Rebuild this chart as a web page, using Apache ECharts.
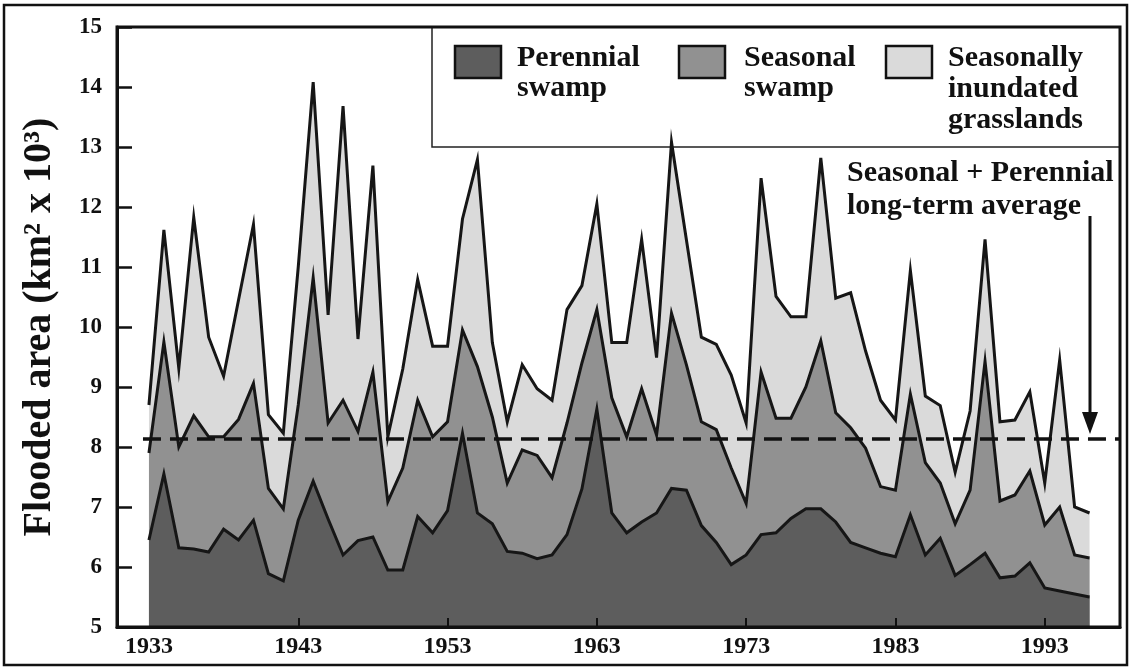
<!DOCTYPE html>
<html>
<head>
<meta charset="utf-8">
<script src="https://cdn.jsdelivr.net/npm/echarts@6/dist/echarts.min.js"></script>
<style>
html,body{margin:0;padding:0;background:#fff;}
#chart{width:1131px;height:669px;}
</style>
</head>
<body>
<div id="chart"></div>
<script>
// ---- data (cumulative levels, km2 x 10^3) ----
const years = [1933,1934,1935,1936,1937,1938,1939,1940,1941,1942,1943,1944,1945,1946,1947,1948,1949,1950,1951,1952,1953,1954,1955,1956,1957,1958,1959,1960,1961,1962,1963,1964,1965,1966,1967,1968,1969,1970,1971,1972,1973,1974,1975,1976,1977,1978,1979,1980,1981,1982,1983,1984,1985,1986,1987,1988,1989,1990,1991,1992,1993,1994,1995,1996];
// top of seasonally inundated grasslands (total flooded area)
const totalArea = [8.70,11.62,9.31,11.83,9.83,9.18,10.45,11.71,8.54,8.23,11.00,14.08,10.20,13.68,9.80,12.69,8.17,9.30,10.79,9.68,9.68,11.80,12.79,9.74,8.42,9.37,8.97,8.78,10.29,10.69,12.05,9.74,9.74,11.46,9.49,13.08,11.45,9.83,9.71,9.20,8.40,12.48,10.51,10.17,10.17,12.82,10.48,10.57,9.60,8.78,8.45,10.94,8.85,8.69,7.58,8.60,11.46,8.42,8.45,8.92,7.40,9.45,7.00,6.90];
// top of seasonal swamp (seasonal + perennial)
const seasonalTop = [7.90,9.75,8.00,8.52,8.17,8.17,8.46,9.06,7.31,6.97,8.70,10.82,8.40,8.78,8.26,9.25,7.09,7.65,8.78,8.17,8.42,9.95,9.34,8.50,7.40,7.95,7.86,7.49,8.40,9.40,10.29,8.82,8.17,8.97,8.20,10.23,9.37,8.42,8.29,7.65,7.06,9.25,8.48,8.48,9.00,9.77,8.57,8.32,7.98,7.34,7.28,8.88,7.74,7.40,6.72,7.28,9.43,7.10,7.20,7.60,6.70,7.00,6.20,6.15];
// top of perennial swamp
const perennialTop = [6.45,7.55,6.32,6.30,6.25,6.63,6.45,6.78,5.89,5.77,6.78,7.43,6.80,6.20,6.44,6.50,5.95,5.95,6.84,6.57,6.94,8.23,6.90,6.72,6.26,6.23,6.14,6.20,6.54,7.30,8.63,6.90,6.57,6.75,6.90,7.31,7.28,6.69,6.41,6.04,6.20,6.54,6.57,6.81,6.97,6.97,6.75,6.41,6.32,6.23,6.17,6.87,6.20,6.48,5.86,6.04,6.23,5.82,5.85,6.07,5.65,5.60,5.55,5.50];
const longTermAverage = 8.14;
const xTickYears = [1933,1943,1953,1963,1973,1983,1993];
const seriesNames = ['Perennial\nswamp','Seasonal\nswamp','Seasonally\ninundated\ngrasslands'];
const annotationText = 'Seasonal + Perennial\nlong-term average';
const yAxisTitle = 'Flooded area (km\u00b2 x 10\u00b3)';

// ---- chart ----
const FONT = '"Liberation Serif","Times New Roman",serif';
const colors = {per:'#5d5d5d', sea:'#919191', gra:'#dadada'};
const pair = arr => arr.map((v,i)=>[years[i], v]);

const chart = echarts.init(document.getElementById('chart'), null, {renderer:'canvas'});
const lineBase = {type:'line', symbol:'none', smooth:false, silent:true,
  lineStyle:{color:'#161616', width:3, join:'miter'}};

chart.setOption({
  animation:false,
  backgroundColor:'#fff',
  grid:{left:117, right:11, top:27, bottom:42, show:true, borderColor:'#111', borderWidth:3, backgroundColor:'transparent', z:5},
  xAxis:{type:'value', min:1930.86, max:1998.04, z:6,
    axisLine:{show:true, onZero:false, lineStyle:{color:'#111', width:3}},
    axisTick:{show:true, inside:true, length:9, lineStyle:{color:'#111', width:2}, customValues:xTickYears.slice(1)},
    axisLabel:{customValues:xTickYears, formatter:v=>String(Math.round(v)), color:'#111', fontFamily:FONT, fontWeight:'bold', fontSize:24, margin:8},
    splitLine:{show:false}},
  yAxis:{type:'value', min:5, max:15, interval:1, z:6,
    name:yAxisTitle, nameLocation:'middle', nameRotate:90, nameGap:57,
    nameTextStyle:{color:'#111', fontFamily:FONT, fontWeight:'bold', fontSize:40},
    axisLine:{show:true, lineStyle:{color:'#111', width:3}},
    axisTick:{show:true, inside:true, length:15, lineStyle:{color:'#111', width:2.5}},
    axisLabel:{color:'#111', fontFamily:FONT, fontWeight:'bold', fontSize:23, margin:15},
    splitLine:{show:false}},
  series:[
    Object.assign({}, lineBase, {name:seriesNames[2], z:2, data:pair(totalArea),
      areaStyle:{color:colors.gra, opacity:1, origin:'start'}}),
    Object.assign({}, lineBase, {name:seriesNames[1], z:3, data:pair(seasonalTop),
      areaStyle:{color:colors.sea, opacity:1, origin:'start'}}),
    Object.assign({}, lineBase, {name:seriesNames[0], z:4, data:pair(perennialTop),
      areaStyle:{color:colors.per, opacity:1, origin:'start'},
      markLine:{silent:true, symbol:['none','none'], label:{show:false},
        lineStyle:{color:'#111', width:3.5, type:[18,9]},
        data:[[{coord:[1932.6, longTermAverage]},{coord:[1998.04, longTermAverage]}]]}})
  ],
  graphic:[
    // outer frame
    {type:'rect', z:0, shape:{x:4, y:5, width:1123, height:660}, style:{fill:'none', stroke:'#111', lineWidth:2.5}},
    // legend box
    {type:'rect', z:1, shape:{x:432, y:27, width:688, height:120}, style:{fill:'#fff', stroke:'#222', lineWidth:1.5}},
    {type:'rect', z:10, shape:{x:455, y:46, width:46, height:32}, style:{fill:colors.per, stroke:'#111', lineWidth:2.5}},
    {type:'text', z:10, left:517, top:43, style:{text:seriesNames[0], font:'bold 30px '+FONT, fill:'#111', lineHeight:30}},
    {type:'rect', z:10, shape:{x:679, y:46, width:46, height:32}, style:{fill:colors.sea, stroke:'#111', lineWidth:2.5}},
    {type:'text', z:10, left:744, top:43, style:{text:seriesNames[1], font:'bold 30px '+FONT, fill:'#111', lineHeight:30}},
    {type:'rect', z:10, shape:{x:886, y:46, width:46, height:32}, style:{fill:colors.gra, stroke:'#111', lineWidth:2.5}},
    {type:'text', z:10, left:948, top:43, style:{text:seriesNames[2], font:'bold 30px '+FONT, fill:'#111', lineHeight:31}},
    // annotation
    {type:'text', z:10, left:847, top:157, style:{text:annotationText, font:'bold 30px '+FONT, fill:'#111', lineHeight:33}},
    {type:'line', z:10, shape:{x1:1090, y1:216, x2:1090, y2:418}, style:{stroke:'#111', lineWidth:3}},
    {type:'polygon', z:10, shape:{points:[[1082,412],[1098,412],[1090,434]]}, style:{fill:'#111'}}
  ]
});
</script>
</body>
</html>
